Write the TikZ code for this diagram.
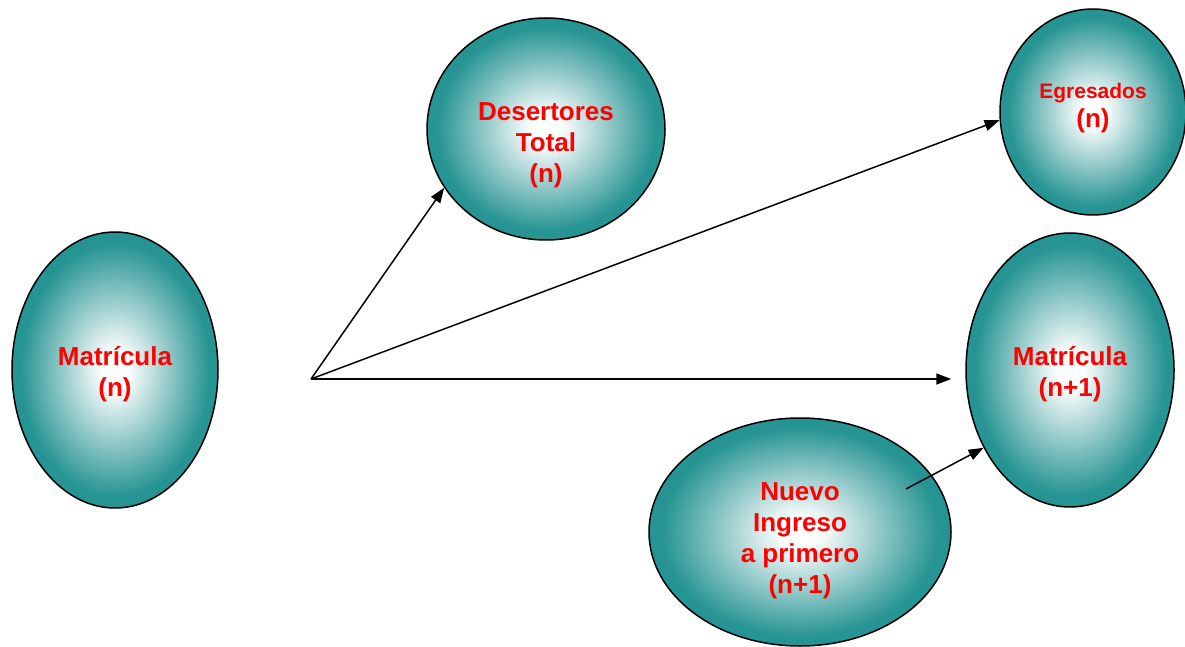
\documentclass[tikz,border=0pt]{standalone}
\usepackage{fontspec}
\setmainfont{Liberation Sans}
\usetikzlibrary{shapes.geometric,arrows.meta}
\definecolor{verde}{RGB}{38,148,146}
\pgfdeclareradialshading{ovalo}{\pgfpointorigin}{color(0bp)=(white); color(3bp)=(white); color(23bp)=(verde); color(50bp)=(verde)}
\begin{document}
\begin{tikzpicture}[x=1pt,y=1pt,
	oval/.style={ellipse,draw,line width=1.5pt,shading=ovalo,inner sep=0pt},
	txt/.style={text=red,font=\bfseries\fontsize{26}{31}\selectfont,align=center},
	flecha/.style={-{Triangle[length=15pt,width=11pt]},line width=1.5pt}]
	\useasboundingbox (0,0) rectangle (1185,646);
	\node[oval,minimum width=206pt,minimum height=276pt] (M) at (115,276) {};
	\node[oval,minimum width=238pt,minimum height=222pt] (D) at (546,517) {};
	\node[oval,minimum width=186pt,minimum height=206pt] (E) at (1093,534) {};
	\node[oval,minimum width=208pt,minimum height=274pt] (M') at (1070,276) {};
	\node[oval,minimum width=302pt,minimum height=228pt] (N) at (800,114) {};
	\node[txt] (Mt) at ([yshift=-4pt]M.center) {Matrícula\\(n)};
	\node[txt] (Dt) at ([yshift=-16pt]D.center) {Desertores\\Total\\(n)};
	\node[txt,font=\bfseries\fontsize{21}{29}\selectfont] (Et) at ([yshift=4pt]E.center) {Egresados\\{\fontsize{26}{29}\selectfont(n)}};
	\node[txt] (M't) at ([yshift=-4pt]M'.center) {Matrícula\\(n+1)};
	\node[txt] (Nt) at ([yshift=-9pt]N.center) {Nuevo\\Ingreso\\a primero\\(n+1)};
	\coordinate (O) at (311,267);
	\coordinate (N1) at (906,157);
	\draw[flecha] (O) -- (D.210);
	\draw[flecha] (O) -- (E.185);
	\draw[flecha,shorten >=14pt] (O) -- (O -| M'.west);
	\draw[flecha] (N1) -- (M'.222);
\end{tikzpicture}
\end{document}
